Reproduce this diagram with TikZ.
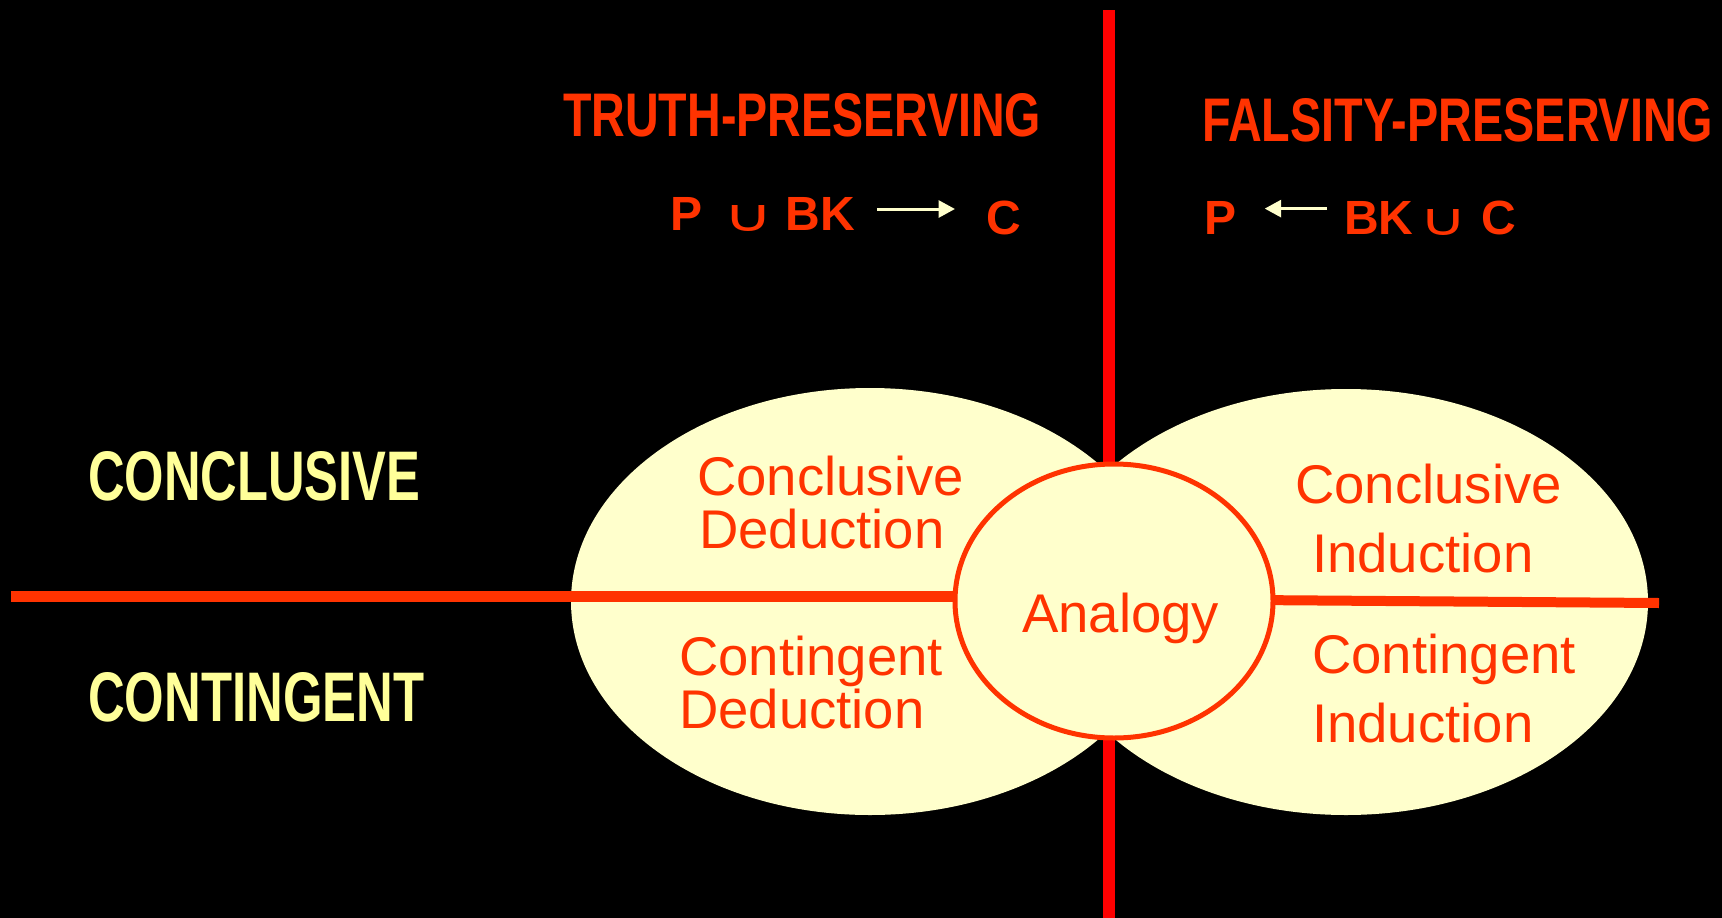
\documentclass[tikz,border=0pt]{standalone}
\usepackage{fontspec}
\setmainfont{Liberation Sans}
\newfontfamily\symfont{DejaVu Sans}
\usepackage{graphicx}
\usetikzlibrary{arrows.meta,shapes.geometric}

\definecolor{ink}{HTML}{FF3300}
\definecolor{cream}{HTML}{FFFFCC}
\definecolor{pale}{HTML}{FFFF99}
\definecolor{axisred}{HTML}{FF0000}

% box of exact width and height (in pt)
\newcommand{\fitbox}[3]{\resizebox{#1pt}{#2pt}{#3}}

\tikzset{
  title/.style={text=ink, inner sep=0pt, anchor=base west, font=\bfseries},
  rowlabel/.style={text=pale, inner sep=0pt, anchor=base west, font=\bfseries},
  formula/.style={text=ink, inner sep=0pt, anchor=base west,
                  font=\fontsize{48}{48}\selectfont\bfseries},
  cupsym/.style={text=ink, inner sep=0pt, anchor=base west},
  kind/.style={text=ink, inner sep=0pt, anchor=base west,
               font=\fontsize{54.5}{54.5}\selectfont},
  blob/.style={ellipse, fill=cream, inner sep=0pt},
  axis/.style={line width=12pt, draw=axisred},
  divider/.style={line width=11pt, draw=ink},
  implies/.style={line width=3pt, draw=cream,
                  -{Triangle[length=16.5pt,width=17pt]}}
}

\begin{document}
\begin{tikzpicture}[x=1pt,y=-1pt]
  \fill[black] (0,0) rectangle (1722,918);
  \useasboundingbox (0,0) rectangle (1722,918);

  % vertical axis
  \coordinate (vtop) at (1109,10);
  \coordinate (vbot) at (1109,918);
  \draw[axis] (vtop) -- (vbot);

  % the two regions
  \node[blob, minimum width=598pt, minimum height=427pt] (ded) at (870,601.5) {};
  \node[blob, minimum width=604pt, minimum height=426pt] (ind) at (1346,602) {};

  % horizontal dividers
  \coordinate (hl) at (11,596);
  \coordinate (hlend) at (1114,596);
  \draw[divider] (hl) -- (hlend);
  \coordinate (hrstart) at (1114,599);
  \coordinate (hr) at (1659,603);
  \draw[divider, line width=10pt] (hrstart) -- (hr);

  % analogy in the middle
  \node[ellipse, draw=ink, line width=5pt, fill=cream, inner sep=0pt,
        minimum width=318pt, minimum height=274pt] (ana) at (1114,601) {};
  \node[kind] (analogy) at (1022,632) {Analogy};

  % column headings
  \node[title] (truth) at (563,136) {\fitbox{478}{43}{TRUTH-PRESERVING}};
  \node[title] (falsity) at (1202,141) {\fitbox{511}{43}{FALSITY-PRESERVING}};

  % row headings
  \node[rowlabel] (concl) at (88,500) {\fitbox{332}{49}{CONCLUSIVE}};
  \node[rowlabel] (conti) at (88,721) {\fitbox{336}{49}{CONTINGENT}};

  % P cup BK --> C
  \node[formula] (tp) at (670,230) {P};
  \node[cupsym] (tcup) at (723,231) {\fitbox{50}{26}{\symfont ∪}};
  \node[formula] (tbk) at (785.5,230) {BK};
  \node[formula] (tc) at (986,234) {C};
  \coordinate (ta) at (877,209);
  \coordinate (tb) at (955,209);
  \draw[implies] (ta) -- (tb);

  % P <-- BK cup C
  \node[formula] (fp) at (1204,234) {P};
  \node[formula] (fbk) at (1344,234) {BK};
  \node[cupsym] (fcup) at (1419,235) {\fitbox{48}{26}{\symfont ∪}};
  \node[formula] (fc) at (1481.5,234) {C};
  \coordinate (fa) at (1327,208.6);
  \coordinate (fb) at (1264.7,208.6);
  \draw[implies] (fa) -- (fb);

  % region labels
  \node[kind] (cd1) at (697,495) {Conclusive};
  \node[kind] (cd2) at (699,548) {Deduction};
  \node[kind] (gd1) at (679,675) {Contingent};
  \node[kind] (gd2) at (679,728) {Deduction};
  \node[kind] (ci1) at (1295,503) {Conclusive};
  \node[kind] (ci2) at (1312,572) {Induction};
  \node[kind] (gi1) at (1312,673) {Contingent};
  \node[kind] (gi2) at (1312,742) {Induction};
\end{tikzpicture}
\end{document}
